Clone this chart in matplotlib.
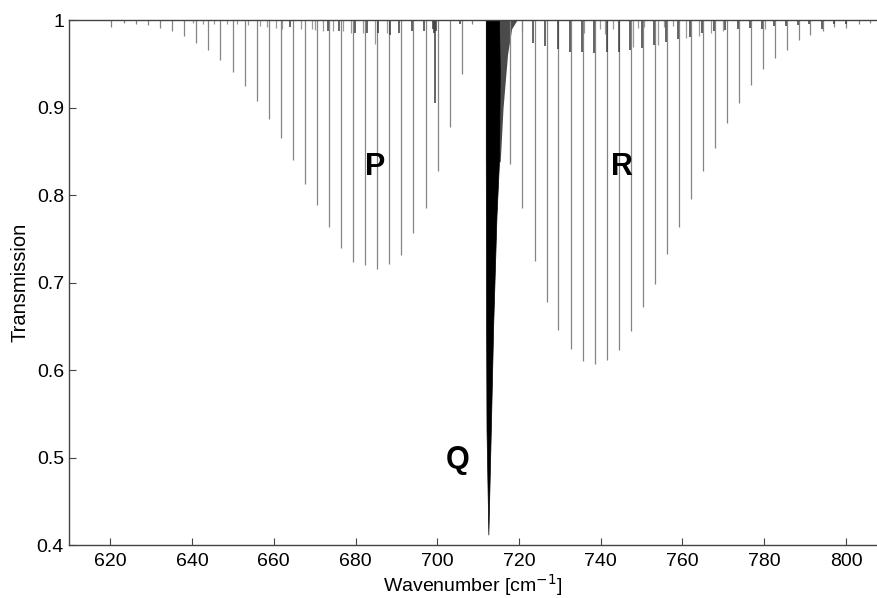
import numpy as np
import matplotlib.pyplot as plt

plt.rcParams['font.family'] = ['Liberation Sans', 'DejaVu Sans']

# P branch lines: wavenumber [cm^-1] and transmission at line centre
p_wn = [620.1, 623.35, 626.29, 629.3, 632.24, 635.10, 638.11, 641.05, 643.98,
        646.92, 649.96, 652.89, 655.83, 658.77, 661.78, 664.64, 667.58, 670.51,
        673.52, 676.46, 679.40, 682.33, 685.27, 688.28, 691.22, 694.16, 697.19,
        700.13, 703.14, 706.08, 708.45]
p_tr = [0.992, 0.997, 0.995, 0.994, 0.991, 0.987, 0.982, 0.974, 0.966,
        0.954, 0.941, 0.925, 0.907, 0.887, 0.865, 0.840, 0.813, 0.789,
        0.763, 0.740, 0.723, 0.720, 0.716, 0.721, 0.731, 0.757, 0.785,
        0.828, 0.878, 0.938, 0.996]

# R branch lines
r_wn = [717.9, 720.8, 723.8, 726.8, 729.64, 732.68, 735.61, 738.62, 741.56,
        744.50, 747.36, 750.30, 753.31, 756.25, 759.18, 762.12, 765.06, 768.00,
        770.93, 773.87, 776.8, 779.7, 782.7, 785.5, 788.5, 791.3, 794.3,
        797.2, 800.1, 803.1, 806.0]
r_tr = [0.835, 0.785, 0.725, 0.678, 0.646, 0.624, 0.610, 0.607, 0.611,
        0.623, 0.645, 0.672, 0.698, 0.733, 0.763, 0.796, 0.828, 0.854,
        0.882, 0.905, 0.926, 0.944, 0.957, 0.966, 0.977, 0.983, 0.988,
        0.992, 0.991, 0.996, 0.997]

# Q branch envelope (unresolved lines) and its high-J tail
q_tr = [1.0, 0.941, 0.838, 0.777, 0.654, 0.531, 0.412]
q_left = [711.87, 711.87, 711.87, 711.90, 711.95, 712.05, 712.50]
q_right = [715.1, 715.3, 715.1, 714.5, 713.7, 713.1, 712.50]
tail_tr = [1.0, 0.99, 0.961, 0.90, 0.838]
tail_right = [719.5, 718.2, 717.2, 716.1, 715.4]

# hot band lines (dark)
hot_wn = [663.98, 673.2, 676.05, 679.9, 682.9, 685.6, 688.5, 690.7, 693.8,
          696.8, 698.9, 699.1, 699.39, 699.6, 705.6,
          723.5, 726.4, 729.5, 732.5, 735.45, 738.45, 741.5, 744.4, 747.2,
          750.1, 753.1, 756.0, 758.9, 761.9, 764.8, 767.6, 770.5, 773.5,
          776.5, 779.4, 782.4, 785.4, 788.3, 791.0, 794.1, 797.0, 800.0]
hot_tr = [0.992, 0.987, 0.987, 0.985, 0.985, 0.985, 0.983, 0.985, 0.987,
          0.988, 0.990, 0.985, 0.905, 0.988, 0.995,
          0.974, 0.970, 0.967, 0.964, 0.963, 0.962, 0.963, 0.964, 0.966,
          0.968, 0.972, 0.975, 0.978, 0.981, 0.985, 0.987, 0.989, 0.990,
          0.991, 0.990, 0.993, 0.993, 0.994, 0.995, 0.990, 0.996, 0.995]

# other weak lines (grey)
weak_wn = [640.3, 642.7, 645.4, 648.5, 650.9, 653.8, 656.6, 658.3, 660.6,
           661.94, 666.6, 669.3, 670.1, 672.0, 674.6, 677.0, 678.8, 681.9,
           684.8, 687.8,
           720.7, 735.8, 739.8, 741.0, 743.0, 748.0, 749.0, 750.7, 754.1,
           755.5, 757.7, 760.8, 764.0, 767.1, 770.0, 780.2]
weak_tr = [0.997, 0.996, 0.996, 0.995, 0.995, 0.994, 0.993, 0.992, 0.991,
           0.990, 0.990, 0.990, 0.989, 0.988, 0.987, 0.987, 0.985, 0.985,
           0.973, 0.985,
           0.986, 0.985, 0.990, 0.984, 0.990, 0.969, 0.991, 0.992, 0.972,
           0.992, 0.993, 0.979, 0.982, 0.985, 0.988, 0.990]

fig = plt.figure(figsize=(8.77, 5.98), dpi=100)
ax = fig.add_axes([0.0792, 0.0886, 0.9208, 0.8779])

ax.vlines(weak_wn, weak_tr, 1, color='#9a9a9a', lw=0.9)
ax.vlines(p_wn, p_tr, 1, color='#858585', lw=0.9)
ax.vlines(r_wn, r_tr, 1, color='#858585', lw=0.9)
ax.vlines(hot_wn, hot_tr, 1, color='#3c3c3c', lw=1.1)

ax.fill_betweenx(tail_tr, q_left[:len(tail_tr)], tail_right, color='#4a4a4a', lw=0)
ax.fill_betweenx(q_tr, q_left, q_right, color='black', lw=0.5)

for lab, x, y in [('P', 684.8, 0.832), ('R', 745.2, 0.832), ('Q', 705.1, 0.497)]:
    ax.text(x, y, lab, fontsize=22, fontweight='bold', ha='center', va='center')

ax.set_xlim(610, 807.6)
ax.set_ylim(0.4, 1.0)
ax.set_xticks(np.arange(620, 801, 20))
ax.set_yticks([0.4, 0.5, 0.6, 0.7, 0.8, 0.9, 1.0])
ax.set_yticklabels(['0.4', '0.5', '0.6', '0.7', '0.8', '0.9', '1'])
ax.tick_params(direction='in', length=5, width=0.8, labelsize=14, color='#444444')
ax.tick_params(axis='x', pad=6)
ax.tick_params(axis='y', pad=4)
ax.spines['right'].set_visible(False)
for s in ['left', 'bottom', 'top']:
    ax.spines[s].set_color('#444444')
    ax.spines[s].set_linewidth(1.0)

ax.set_xlabel('Wavenumber [cm$^{-1}$]', fontsize=14, labelpad=1)
ax.set_ylabel('Transmission', fontsize=14.5, labelpad=5)

fig.savefig('out.png', dpi=100)
